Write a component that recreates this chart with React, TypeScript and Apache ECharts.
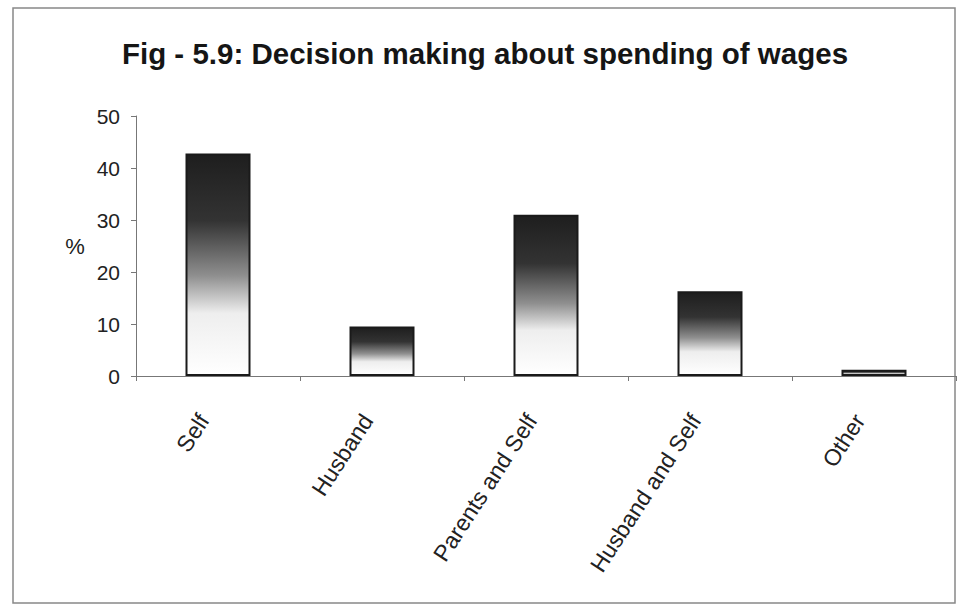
import React, { useEffect, useRef } from "react";
import * as echarts from "echarts";

const categories = ["Self", "Husband", "Parents and Self", "Husband and Self", "Other"];
const values = [42.8, 9.5, 31.0, 16.3, 1.2];
const titleText = "Fig - 5.9: Decision making about spending of wages";
const yAxisName = "%";

export default function App() {
  const ref = useRef<HTMLDivElement>(null);
  useEffect(() => {
    document.body.style.margin = "0";
    if (!ref.current) return;
    const chart = echarts.init(ref.current, undefined, { renderer: "svg" });
    const grad = new echarts.graphic.LinearGradient(0, 0, 0, 1, [
      { offset: 0, color: "#1e1e1e" },
      { offset: 0.3, color: "#333333" },
      { offset: 0.55, color: "#8f8f8f" },
      { offset: 0.72, color: "#eeeeee" },
      { offset: 1, color: "#ffffff" },
    ]);
    chart.setOption({
      animation: false,
      backgroundColor: "#ffffff",
      title: {
        text: titleText,
        left: 480,
        top: 33,
        textAlign: "center",
        textStyle: {
          fontFamily: "'Liberation Sans', Arial, sans-serif",
          fontSize: 29.5,
          fontWeight: "bold",
          color: "#151515",
        },
      },
      graphic: [
        {
          type: "rect",
          shape: { x: 13, y: 8, width: 942, height: 595 },
          style: { fill: "none", stroke: "#888", lineWidth: 1.5 },
          silent: true,
        },
        {
          type: "text",
          x: 75,
          y: 246,
          style: {
            text: yAxisName,
            fontFamily: "'Liberation Sans', Arial, sans-serif",
            fontSize: 22,
            fill: "#222",
            align: "center",
            verticalAlign: "middle",
          },
        },
      ],
      grid: { left: 136, right: 2, top: 116, bottom: 231 },
      xAxis: {
        type: "category",
        data: categories,
        axisLine: { lineStyle: { color: "#777", width: 1 } },
        axisTick: { show: true, alignWithLabel: false, length: 5, lineStyle: { color: "#777" } },
        axisLabel: {
          rotate: 57,
          margin: 39,
          align: "right",
          verticalAlign: "bottom",
          padding: [0, 9, 0, 0],
          fontFamily: "'Liberation Sans', Arial, sans-serif",
          fontSize: 23,
          color: "#222",
          interval: 0,
        },
      },
      yAxis: {
        type: "value",
        min: 0,
        max: 50,
        interval: 10,
        splitLine: { show: false },
        axisLine: { show: true, lineStyle: { color: "#777", width: 1 } },
        axisTick: { show: true, length: 5, lineStyle: { color: "#777" } },
        axisLabel: {
          margin: 16,
          fontFamily: "'Liberation Sans', Arial, sans-serif",
          fontSize: 21,
          color: "#222",
        },
      },
      series: [
        {
          type: "bar",
          data: values,
          barWidth: 65,
          itemStyle: { color: grad, borderColor: "#1a1a1a", borderWidth: 2 },
        },
      ],
    });
    return () => chart.dispose();
  }, []);
  return <div ref={ref} style={{ width: 958, height: 607 }} />;
}
